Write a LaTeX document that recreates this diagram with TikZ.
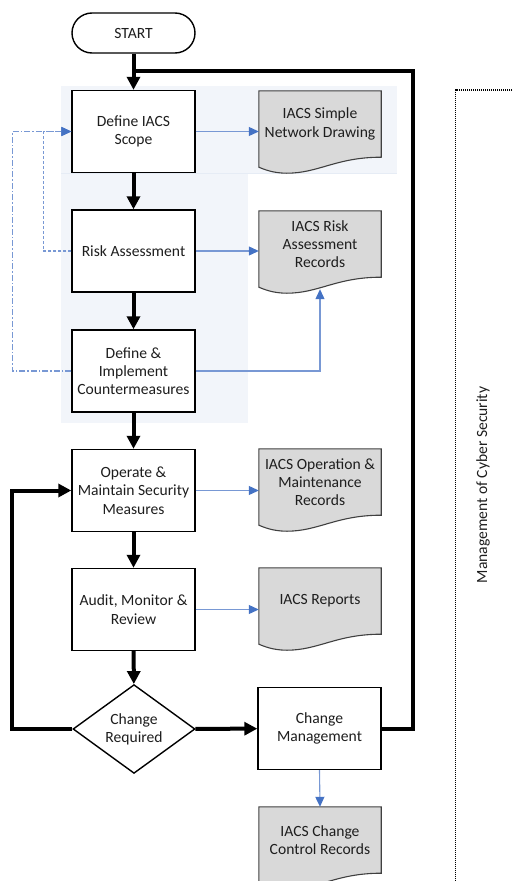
\documentclass[tikz,border=0pt]{standalone}
\usepackage{fontspec}
\setmainfont{Carlito}
\usetikzlibrary{arrows.meta,shapes.geometric,backgrounds,calc}
\definecolor{bgshadecol}{RGB}{242,245,250}
\definecolor{bgshadeline}{RGB}{230,236,245}
\definecolor{docfill}{RGB}{217,217,217}
\definecolor{docline}{RGB}{64,64,64}
\definecolor{bluehead}{RGB}{68,114,196}
\definecolor{blueline}{RGB}{120,152,212}
\definecolor{txt}{RGB}{30,30,30}
\newcommand\mydoc[1]{\draw[docline, fill=docfill, line width=1.1pt] (#1.north west) -- (#1.north east) -- (#1.south east) .. controls ([xshift=-45pt]#1.south east) and ([xshift=60pt,yshift=-16pt]#1.south west) .. ([xshift=28pt,yshift=-16pt]#1.south west) .. controls ([xshift=14pt,yshift=-16pt]#1.south west) and ([xshift=5pt,yshift=-12pt]#1.south west) .. ([yshift=-10pt]#1.south west) -- cycle;}
\begin{document}
\begin{tikzpicture}[x=1pt,y=-1pt,
  every node/.style={font=\fontsize{15.6}{18.3}\selectfont, text=txt},
  proc/.style={draw=black, line width=1.4pt, fill=white, minimum width=123pt, minimum height=82pt, align=center, inner sep=2pt},
  docnode/.style={minimum width=122pt, minimum height=66pt, align=center, inner sep=2pt},
  main/.style={line width=4pt, -{Triangle[length=13pt,width=13pt]}},
  mainline/.style={line width=4pt},
  info/.style={blueline, line width=1.1pt, -{Triangle[length=10pt,width=9pt,color=bluehead]}},
  fbdash/.style={blueline, line width=1.1pt, dash pattern=on 3pt off 2pt, -{Triangle[length=10pt,width=9pt,color=bluehead]}},
  fbdashdot/.style={blueline, line width=1.1pt, dash pattern=on 6pt off 2pt on 1.5pt off 2pt, -{Triangle[length=10pt,width=9pt,color=bluehead]}}
]
\useasboundingbox (0,0) rectangle (512,881);

% nodes
\node[proc, rounded corners=20pt, minimum height=40pt] (start) at (133.5,33) {START};
\node[proc] (ds) at (133.5,131.5) {Define IACS\\Scope};
\node[proc] (ra) at (133.5,251) {Risk Assessment};
\node[proc] (di) at (133.5,371) {Define \&\\Implement\\Countermeasures};
\node[proc] (op) at (133.5,490.5) {Operate \&\\Maintain Security\\Measures};
\node[proc] (au) at (133.5,609.5) {Audit, Monitor \&\\Review};
\node[diamond, draw=black, line width=1.4pt, fill=white, minimum width=122pt, minimum height=82pt, inner sep=0pt, align=center] (cr) at (134,729) {Change\\Required};
\node[proc] (cm) at (319.5,728.5) {Change\\Management};

\node[docnode] (d1) at (320,124) {IACS Simple\\Network Drawing};
\node[docnode] (d2) at (320,244) {IACS Risk\\Assessment\\Records};
\node[docnode] (d3) at (320,482) {IACS Operation \&\\Maintenance\\Records};
\node[docnode] (d4) at (320,601) {IACS Reports};
\node[docnode] (d5) at (320,840) {IACS Change\\Control Records};

\node[rotate=90] (lbl) at (483,485) {Management of Cyber Security};

% background
\begin{scope}[on background layer]
\fill[bgshadecol] (61,86) rectangle (397,173);
\fill[bgshadecol] (61,173) rectangle (248,423);
\draw[bgshadeline, line width=0.6pt] (61,173) -- (397,173);
\mydoc{d1}
\mydoc{d2}
\mydoc{d3}
\mydoc{d4}
\mydoc{d5}
\end{scope}

% right dotted bracket
\draw[line width=1.3pt, dash pattern=on 1pt off 1pt] (520,90) -- (455.5,90) -- (455.5,890);

% main flow
\coordinate (j) at (133.5,71);
\draw[main] (start) -- (ds);
\draw[main] (ds) -- (ra);
\draw[main] (ra) -- (di);
\draw[main] (di) -- (op);
\draw[main] (op) -- (au);
\draw[main] (au) -- (cr);
\draw[main] (cr) -- (cm);
\draw[mainline, line join=miter] (cm.east) -- ++(31,0) |- (j);
\draw[main, line join=miter] (cr.west) -- ++(-60,0) |- (op.west);

% information flows
\draw[info] (ds.east) -- (ds.east -| d1.west);
\draw[info] (ra.east) -- (ra.east -| d2.west);
\draw[info] (di.east) -| ([yshift=-12pt]d2.south);
\draw[info] (op.east) -- (op.east -| d3.west);
\draw[info] (au.east) -- (au.east -| d4.west);
\draw[info] (cm.south) -- (d5.north);

% feedback
\draw[fbdash] (ra.west) -- ++(-28,0) |- (ds.west);
\draw[fbdashdot] (di.west) -- ++(-59,0) |- (ds.west);
\end{tikzpicture}
\end{document}
